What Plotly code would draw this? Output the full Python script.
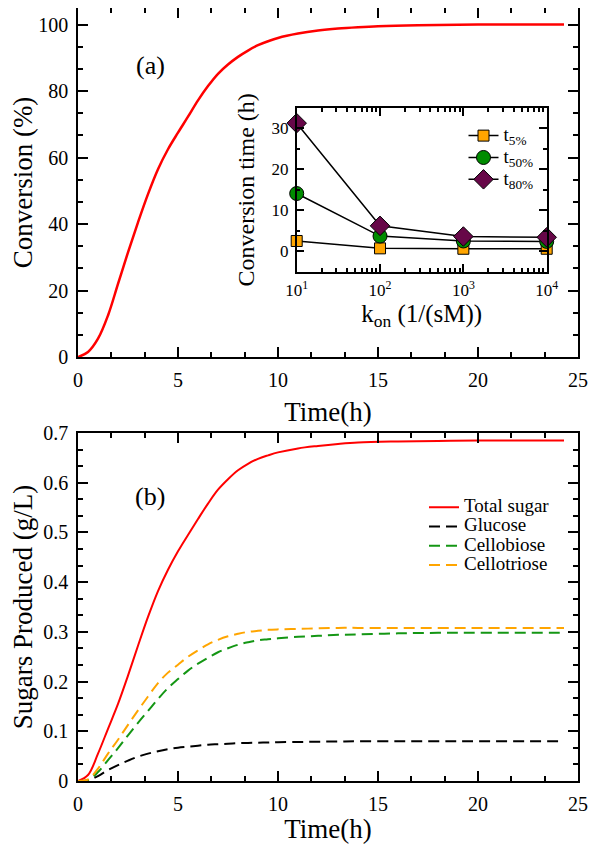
import plotly.graph_objects as go

# ---------------- data ----------------
# Panel (a): conversion vs time
time_a = [0, 0.5, 1, 1.5, 2, 2.5, 3, 3.5, 4, 4.5, 5, 5.5, 6, 6.5, 7, 7.5, 8, 8.5, 9, 9.5, 10,
          11, 12, 13, 14, 15, 17, 20, 24.3]
conversion = [0, 1.5, 5.5, 12.5, 22, 31.5, 40.5, 49, 56.5, 62.5, 67.5, 72.3, 77.2, 81.5, 85.2, 88, 90.3,
              92.2, 93.8, 95, 96, 97.3, 98.2, 98.8, 99.2, 99.5, 99.8, 100, 100]

# Inset: conversion time vs k_on
k_on = [10, 100, 1000, 10000]
t5 = [2.5, 0.7, 0.6, 0.6]
t50 = [14.1, 3.7, 2.5, 2.4]
t80 = [31.3, 6.2, 3.6, 3.4]
inset_names = ["t<sub>5%</sub>", "t<sub>50%</sub>", "t<sub>80%</sub>"]
inset_ticks = [10, 100, 1000, 10000]
inset_ticktext = ["10<sup>1</sup>", "10<sup>2</sup>", "10<sup>3</sup>", "10<sup>4</sup>"]

# Panel (b): sugars produced vs time
time_b = [0, 0.5, 1, 1.5, 2, 2.5, 3, 3.5, 4, 4.5, 5, 5.5, 6, 6.5, 7, 7.5, 8, 8.5, 9, 9.5, 10,
          11, 12, 13, 14, 16, 18, 20, 24.3]
total_sugar = [0, 0.012, 0.055, 0.105, 0.155, 0.212, 0.272, 0.33, 0.382, 0.425, 0.462, 0.495, 0.527,
               0.558, 0.586, 0.607, 0.625, 0.638, 0.648, 0.655, 0.661, 0.669, 0.674, 0.678, 0.681,
               0.683, 0.684, 0.685, 0.685]
glucose = [0, 0.001, 0.01, 0.022, 0.032, 0.041, 0.049, 0.055, 0.06, 0.064, 0.067, 0.069, 0.071,
           0.073, 0.074, 0.075, 0.076, 0.0765, 0.077, 0.0775, 0.078, 0.0785, 0.079, 0.0795, 0.08,
           0.08, 0.08, 0.08, 0.08]
cellobiose = [0, 0.002, 0.018, 0.042, 0.066, 0.092, 0.117, 0.141, 0.165, 0.187, 0.205, 0.222, 0.236,
              0.248, 0.259, 0.267, 0.274, 0.279, 0.283, 0.285, 0.287, 0.29, 0.292, 0.294, 0.295,
              0.297, 0.298, 0.298, 0.298]
cellotriose = [0, 0.003, 0.025, 0.055, 0.083, 0.113, 0.142, 0.17, 0.197, 0.218, 0.234, 0.25, 0.263,
               0.275, 0.284, 0.291, 0.296, 0.3, 0.302, 0.304, 0.305, 0.306, 0.307, 0.308, 0.308,
               0.308, 0.308, 0.308, 0.308]
sugar_names = ["Total sugar", "Glucose", "Cellobiose", "Cellotriose"]

FONT = "Liberation Serif"


def big(txt, size):
    return f'<span style="font-size:{size}px">{txt}</span>'


fig = go.Figure()

# Panel (a)
fig.add_trace(go.Scatter(x=time_a, y=conversion, mode="lines", line=dict(color="#ff0000", width=2.5),
                         line_shape="spline", showlegend=False, xaxis="x", yaxis="y"))

# Inset
inset_series = [(t5, "square", "#ffa500", 11), (t50, "circle", "#008c00", 14), (t80, "diamond", "#670748", 15)]
for (vals, sym, col, sz), name in zip(inset_series, inset_names):
    fig.add_trace(go.Scatter(x=k_on, y=vals, mode="lines+markers", name=big(name, 19),
                             line=dict(color="black", width=1.5),
                             marker=dict(symbol=sym, color=col, size=sz, line=dict(color="black", width=1)),
                             xaxis="x3", yaxis="y3", legend="legend2", cliponaxis=False))

# Panel (b)
dash = "11px,6px"
sugar_series = [(total_sugar, "#ff0000", "solid"), (glucose, "black", dash),
                (cellobiose, "#149614", dash), (cellotriose, "#ffa500", dash)]
for (vals, col, ds), name in zip(sugar_series, sugar_names):
    fig.add_trace(go.Scatter(x=time_b, y=vals, mode="lines", name=big(name, 19), line_shape="spline",
                             line=dict(color=col, width=2, dash=ds), xaxis="x2", yaxis="y2"))

common = dict(showline=True, linecolor="black", linewidth=1.5, mirror="allticks", ticks="inside",
              ticklen=10, tickwidth=1.5, tickcolor="black", showgrid=False, zeroline=False,
              automargin=False, tickfont=dict(family=FONT, size=20, color="black"))
inset_common = {**common, "tickfont": dict(family=FONT, size=17, color="black"), "ticklen": 8}

# The page body has an 8px margin, so the figure is sized/positioned to compensate.
fig.update_layout(
    width=592, height=836,
    margin=dict(l=70, r=22, t=0, b=63, autoexpand=False),
    paper_bgcolor="white", plot_bgcolor="white",
    font=dict(family=FONT, color="black"),
    xaxis=dict(domain=[0, 1], range=[0, 25], dtick=5, anchor="y",
               minor=dict(ticks="inside", ticklen=5, dtick=5 / 3, tick0=0, tickcolor="black", tickwidth=1.5),
               title=dict(text="Time(h)", font=dict(size=27, family=FONT), standoff=12),
               ticklabelstandoff=4, **common),
    yaxis=dict(domain=[0.5485, 1], range=[0, 105], dtick=20, anchor="x",
               minor=dict(ticks="inside", ticklen=5, dtick=20 / 3, tick0=0, tickcolor="black", tickwidth=1.5),
               title=dict(text="Conversion (%)", font=dict(size=27, family=FONT), standoff=11),
               ticklabelstandoff=4, **common),
    xaxis2=dict(domain=[0, 1], range=[0, 25], dtick=5, anchor="y2",
                minor=dict(ticks="inside", ticklen=5, dtick=5 / 3, tick0=0, tickcolor="black", tickwidth=1.5),
                title=dict(text="Time(h)", font=dict(size=27, family=FONT), standoff=12),
                ticklabelstandoff=4, **common),
    yaxis2=dict(domain=[0, 0.4502], range=[0, 0.7], dtick=0.1, anchor="x2",
                minor=dict(ticks="inside", ticklen=5, dtick=0.1 / 3, tick0=0, tickcolor="black", tickwidth=1.5),
                title=dict(text="Sugars Produced (g/L)", font=dict(size=27, family=FONT), standoff=11),
                ticklabelstandoff=4, **common),
    xaxis3=dict(domain=[0.4374, 0.9374], type="log", range=[1, 4], anchor="y3",
                tickvals=inset_ticks, ticktext=inset_ticktext,
                minor=dict(ticks="inside", ticklen=4, dtick="D1", tickcolor="black", tickwidth=1.5),
                title=dict(text="k<sub>on</sub> (1/(sM))", font=dict(size=25, family=FONT), standoff=2),
                ticklabelstandoff=2, **inset_common),
    yaxis3=dict(domain=[0.6589, 0.8706], range=[-5, 35], dtick=10, anchor="x3",
                minor=dict(ticks="inside", ticklen=4, dtick=5, tick0=0, tickcolor="black", tickwidth=1.5),
                title=dict(text="Conversion time (h)", font=dict(size=24, family=FONT), standoff=10),
                ticklabelstandoff=3, **inset_common),
    legend=dict(x=0.692, y=0.373, xanchor="left", yanchor="top", bgcolor="rgba(0,0,0,0)",
                font=dict(family=FONT, size=12.5, color="black"), tracegroupgap=0),
    legend2=dict(x=0.771, y=0.8555, xanchor="left", yanchor="top", bgcolor="rgba(0,0,0,0)",
                 font=dict(family=FONT, size=14.5, color="black"), tracegroupgap=0),
    annotations=[
        dict(text="(a)", x=3.6, y=87.6, xref="x", yref="y", showarrow=False,
             font=dict(family=FONT, size=26, color="black")),
        dict(text="(b)", x=3.6, y=0.573, xref="x2", yref="y2", showarrow=False,
             font=dict(family=FONT, size=26, color="black")),
    ],
)

fig.write_html("out.html")
